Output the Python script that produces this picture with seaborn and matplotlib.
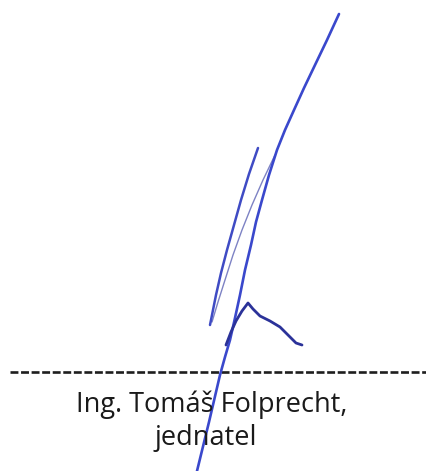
import matplotlib
matplotlib.use("Agg")
import matplotlib.pyplot as plt
import seaborn as sns
import pandas as pd

# Signature strokes (pixel coordinates, y downward)
main_x = [339, 327, 315, 304, 294, 285, 277, 269, 262, 256, 251, 245, 240, 235, 230, 225, 220, 209, 197]
main_y = [14, 40, 65, 88, 110, 130, 150, 175, 200, 222, 245, 270, 295, 318, 340, 357, 375, 422, 471]

left_x = [258, 249, 241, 234, 227, 221, 216, 210]
left_y = [148, 174, 200, 225, 250, 273, 295, 325]

mid_x = [275, 263, 252, 242, 233, 225, 218, 212]
mid_y = [155, 180, 205, 230, 255, 280, 302, 322]

hook_x = [226, 231, 236, 242, 248, 253, 260, 270, 280, 290, 296, 302]
hook_y = [345, 332, 321, 311, 303, 309, 316, 321, 327, 337, 343, 345]

line_x = [10, 426]
line_y = [372, 372]

name_text = "Ing. Tomáš Folprecht,"
role_text = "jednatel"

sns.set_theme(style="white")
plt.rcParams['font.family'] = ['Open Sans', 'DejaVu Sans']

fig = plt.figure(figsize=(4.26, 4.71), dpi=100)
ax = fig.add_axes([0, 0, 1, 1])
ax.set_xlim(0, 426)
ax.set_ylim(471, 0)
ax.axis("off")

# dashed signature line
sns.lineplot(x=line_x, y=line_y, ax=ax, color="#1e1e1e", linewidth=1.9, sort=False, estimator=None)
ax.lines[-1].set_dashes((3.0, 1.0))

ax.text(212, 412, name_text, ha="center", va="baseline", fontsize=19.5, color="#1a1a1a")
ax.text(206, 445, role_text, ha="center", va="baseline", fontsize=19.5, color="#1a1a1a")

df_main = pd.DataFrame({"x": main_x, "y": main_y})
df_left = pd.DataFrame({"x": left_x, "y": left_y})
df_mid = pd.DataFrame({"x": mid_x, "y": mid_y})
df_hook = pd.DataFrame({"x": hook_x, "y": hook_y})

sns.lineplot(data=df_mid, x="x", y="y", ax=ax, color="#7d82c4", linewidth=1.0, sort=False, estimator=None)
sns.lineplot(data=df_left, x="x", y="y", ax=ax, color="#3f4bc4", linewidth=1.8, sort=False, estimator=None)
sns.lineplot(data=df_main, x="x", y="y", ax=ax, color="#3a48cc", linewidth=1.9, sort=False, estimator=None)
sns.lineplot(data=df_hook, x="x", y="y", ax=ax, color="#2b3299", linewidth=2.0, sort=False, estimator=None)

for ln in ax.lines[1:]:
    ln.set_solid_capstyle("round")
    ln.set_solid_joinstyle("round")

ax.set_xlim(0, 426)
ax.set_ylim(471, 0)
fig.savefig("out.png", dpi=100, facecolor="white")
